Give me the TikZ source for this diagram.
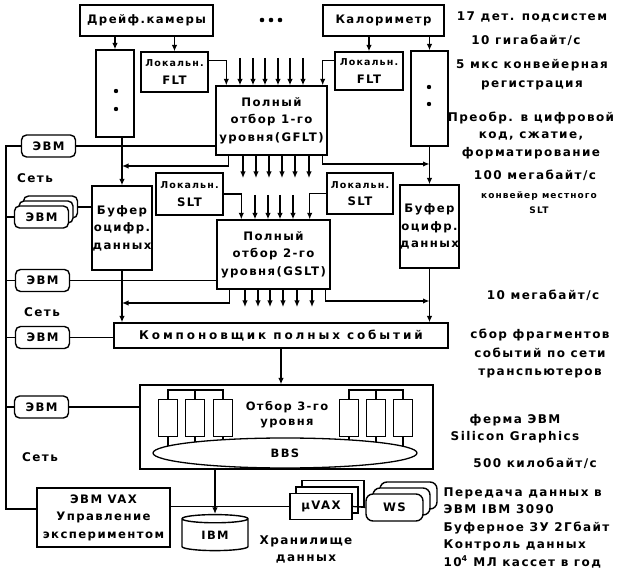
\documentclass[tikz,border=0pt]{standalone}
\usepackage{fontspec}
\newfontfamily\dejavu[LetterSpace=12]{DejaVu Sans}
\newfontfamily\dejawide[LetterSpace=24]{DejaVu Sans}
\usetikzlibrary{calc,arrows.meta,shapes.geometric}

\newcommand{\lok}{{\fontsize{9.5}{12}\selectfont Локальн.}}

\tikzset{
  lbl/.style={font=\dejavu\bfseries\fontsize{12}{17.5}\selectfont, align=center, inner sep=0pt},
  box/.style={draw, line width=1.4pt, fill=white, align=center, inner sep=0pt,
    font=\dejavu\bfseries\fontsize{11.7}{17.5}\selectfont},
  evmbox/.style={box, rounded corners=5pt, minimum width=54, minimum height=22},
  arr/.style={-{Latex[length=6.5pt,width=5.5pt]}},
  wire/.style={line width=1.2pt},
}

\begin{document}
\begin{tikzpicture}[x=1pt, y=-1pt, wire]
  \useasboundingbox (0,0) rectangle (619,569);

  % detectors and first level
  \node[box, minimum width=133, minimum height=31] (drift) at (146.5,20.5) {Дрейф.камеры};
  \node[box, minimum width=121, minimum height=31] (calor) at (383.5,20.5) {Калориметр};
  \foreach \x in {262,271,280} \fill (\x,20) circle (2.3);

  \node[box, minimum width=38, minimum height=87] (colL) at (115,93.5) {};
  \node[box, minimum width=37, minimum height=95] (colR) at (429.5,98.5) {};
  \foreach \y in {91,109} \fill (116,\y) circle (2.2);
  \foreach \y in {87,104} \fill (429,\y) circle (2.2);

  \node[box, minimum width=67, minimum height=40] (flt1) at (174.5,72) {\lok\\FLT};
  \node[box, minimum width=68, minimum height=38] (flt2) at (369,71) {\lok\\FLT};
  \node[box, minimum width=111, minimum height=69] (gflt) at (271.5,120.5) {Полный\\отбор 1-го\\уровня(GFLT)};

  % second level
  \node[box, minimum width=60, minimum height=84] (bufL) at (122,228) {Буфер\\оцифр.\\данных};
  \node[box, minimum width=59, minimum height=83] (bufR) at (429.5,226.5) {Буфер\\оцифр.\\данных};
  \node[box, minimum width=67, minimum height=42] (slt1) at (189.5,194) {\lok\\SLT};
  \node[box, minimum width=66, minimum height=41] (slt2) at (360,193.5) {\lok\\SLT};
  \node[box, minimum width=113, minimum height=69] (gslt) at (273.5,254.5) {Полный\\отбор 2-го\\уровня(GSLT)};

  \node[box, minimum width=334, minimum height=25,
    font=\dejawide\bfseries\fontsize{12}{14}\selectfont] (comp) at (281,335.5) {Компоновщик полных событий};

  % third level
  \node[box, minimum width=293, minimum height=84] (lev3) at (286.5,427) {};
  \node[lbl, font=\dejavu\bfseries\fontsize{11.5}{15}\selectfont] (lev3txt) at (287,415) {Отбор 3-го\\уровня};
  \foreach \n/\x in {1/168,2/195,3/223,4/349,5/376,6/403}
    \node[box, line width=1.1pt, minimum width=19, minimum height=37] (cpu\n) at (\x,418) {};
  \draw (cpu1.north) -- ++(0,-9) -| (cpu3.north);
  \draw (cpu2.north) -- ++(0,-9);
  \draw (cpu4.north) -- ++(0,-9) -| (cpu6.north);
  \draw (cpu5.north) -- ++(0,-9);
  \coordinate (bbsc) at (285,453);
  \foreach \n in {1,...,6} \draw (cpu\n.south) -- (cpu\n.south |- bbsc);
  \node[ellipse, draw, line width=1.3pt, fill=white, minimum width=264, minimum height=30,
    inner sep=0pt, font=\dejavu\bfseries\fontsize{11.5}{13}\selectfont] (bbs) at (bbsc) {BBS};

  % computers
  \node[evmbox] (evm1) at (48.5,146) {ЭВМ};
  \node[evmbox] (evm2c) at (50.5,207) {};
  \node[evmbox] (evm2b) at (46,212) {};
  \node[evmbox] (evm2) at (41.5,217) {ЭВМ};
  \node[evmbox] (evm3) at (42.5,280.5) {ЭВМ};
  \node[evmbox] (evm4) at (42.5,337.5) {ЭВМ};
  \node[evmbox] (evm5) at (41.5,407) {ЭВМ};

  \node[box, minimum width=133, minimum height=59] (vax) at (103.5,517.5) {ЭВМ VAX\\Управление\\экспериментом};
  \node[cylinder, shape border rotate=90, draw, line width=1.4pt, aspect=0.3, minimum width=66,
    minimum height=36, inner sep=0pt, font=\dejavu\bfseries\fontsize{11.5}{13}\selectfont] (ibm) at (215,535) {IBM};
  \node[box, minimum width=62, minimum height=26] (mvc) at (333,493.5) {};
  \node[box, minimum width=62, minimum height=26] (mvb) at (327,500) {};
  \node[box, minimum width=62, minimum height=26] (mv) at (321,506.5) {µVAX};
  \node[box, rounded corners=7pt, minimum width=57, minimum height=27] (wsc) at (408.5,495.5) {};
  \node[box, rounded corners=7pt, minimum width=57, minimum height=27] (wsb) at (401.5,501.5) {};
  \node[box, rounded corners=7pt, minimum width=57, minimum height=27] (ws) at (394.5,507.5) {WS};

  % connections, first level
  \draw[arr] (drift.south -| colL.north) -- (colL.north);
  \draw[arr] (drift.south -| flt1.north) -- (flt1.north);
  \draw[arr] (calor.south -| flt2.north) -- (flt2.north);
  \draw[arr] (calor.south -| colR.north) -- (colR.north);
  \draw[arr] ($(flt1.north east)+(0,9)$) -| ($(gflt.north west)+(11,0)$);
  \draw[arr] ($(flt2.north west)+(0,9)$) -| ($(gflt.north east)+(-5,0)$);
  \foreach \x in {240,253,265,278,290,303} \draw[arr] (\x,58) -- (gflt.north -| \x,0);
  \foreach \x in {243,256,269,282,295,309} \draw[arr] (gflt.south -| \x,0) -- (\x,178);
  \draw[arr] ($(gflt.south west)+(13,0)$) |- (bufL.north |- 0,166);
  \draw[arr] ($(gflt.south east)+(-5,0)$) |- (bufR.north |- 0,164);
  \draw[arr] (colL.south -| bufL.north) -- (bufL.north);
  \draw[arr] (colR.south) -- (bufR.north);

  % connections, second level
  \draw[arr] (slt1.east) -| ($(gslt.north west)+(25,0)$);
  \draw[arr] (slt2.west) -| ($(gslt.north east)+(-21,0)$);
  \foreach \x in {255,268,280,293} \draw[arr] (\x,195) -- (gslt.north -| \x,0);
  \foreach \x in {245,258,270,283,297,312} \draw[arr] (gslt.south -| \x,0) -- (\x,307);
  \draw[arr] ($(gslt.south west)+(13,0)$) |- (bufL.south |- 0,303);
  \draw[arr] ($(gslt.south east)+(-5,0)$) |- (bufR.south |- 0,301);
  \draw[arr] (bufL.south) -- (bufL.south |- comp.north);
  \draw[arr] (bufR.south) -- (bufR.south |- comp.north);
  \draw[arr] (comp.south) -- (comp.south |- lev3.north);
  \draw[arr] (lev3.south -| ibm.north) -- (ibm.north);

  % network
  \coordinate (netB) at (6,509);
  \draw (evm1.west) -| (netB) -- (netB -| vax.west);
  \foreach \e in {evm2,evm3,evm4,evm5} \draw (\e.west) -- (\e.west -| netB);
  \draw (evm1.east) -- (evm1.east -| gflt.west);
  \draw (evm2c.east) -- (evm2c.east -| bufL.west);
  \draw (evm3.east) -- (evm3.east -| gslt.west);
  \draw (evm4.east) -- (evm4.east -| comp.west);
  \draw (evm5.east) -- (evm5.east -| lev3.west);
  \draw (vax.east |- mv.west) -- (mv.west);
  \draw (mv.east) -- (ws.west);

  \node[lbl] (net1) at (35,178) {Сеть};
  \node[lbl] (net2) at (42,312) {Сеть};
  \node[lbl] (net3) at (40,457) {Сеть};
  \node[lbl] (store) at (306,549.5) {Хранилище\\данных};

  % notes on the right
  \node[lbl] (n1) at (532,17) {17 дет. подсистем};
  \node[lbl] (n2) at (526,40) {10 гигабайт/с};
  \node[lbl] (n3) at (532,74.5) {5 мкс конвейерная\\[1.5pt]регистрация};
  \node[lbl] (n4) at (531,135) {Преобр. в цифровой\\код, сжатие,\\форматирование};
  \node[lbl] (n5) at (535,175) {100 мегабайт/с};
  \node[lbl, font=\dejavu\bfseries\fontsize{9}{15}\selectfont] (n6) at (539,203) {конвейер местного\\SLT};
  \node[lbl] (n7) at (543,295) {10 мегабайт/с};
  \node[lbl] (n8) at (540,353.5) {сбор фрагментов\\[1pt]событий по сети\\[1pt]транспьютеров};
  \node[lbl] (n9) at (515,428.5) {ферма ЭВМ\\Silicon Graphics};
  \node[lbl] (n10) at (535,463) {500 килобайт/с};
  \node[lbl, align=left, anchor=west] (n11) at (443,527.5)
    {Передача данных в\\ЭВМ IBM 3090\\Буферное ЗУ 2Гбайт\\Контроль данных\\10\textsuperscript{4} МЛ кассет в год};
\end{tikzpicture}
\end{document}
